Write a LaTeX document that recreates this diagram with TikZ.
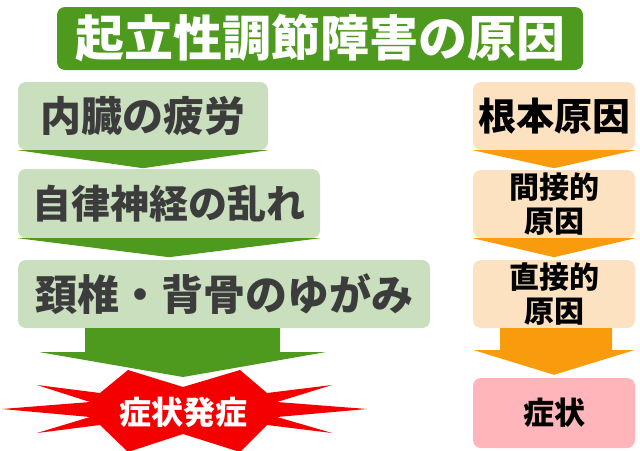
\documentclass[tikz,border=0pt]{standalone}
\usepackage{fontspec}
\setmainfont{Noto Sans CJK JP}
\usetikzlibrary{calc}
\definecolor{gdark}{HTML}{4E9A1E}
\definecolor{glight}{HTML}{C9DFBD}
\definecolor{peach}{HTML}{FDE2C2}
\definecolor{orng}{HTML}{F89C0E}
\definecolor{pinkbox}{HTML}{FFB5B9}
\definecolor{starred}{HTML}{F50000}
\definecolor{gtext}{HTML}{3C3C3C}
\newcommand{\fs}[2]{\fontsize{#1}{#2}\selectfont\bfseries}
\tikzset{
  box/.style={rounded corners=8pt, inner sep=0pt, align=center},
  gbox/.style={box, fill=glight, text=gtext},
  obox/.style={box, fill=peach, text=black},
  pbox/.style={box, fill=pinkbox, text=black},
  garrow/.style={fill=gdark},
  oarrow/.style={fill=orng},
}
\begin{document}
\begin{tikzpicture}[x=1pt,y=-1pt]
\useasboundingbox (0,0) rectangle (640,450);
% title
\node[box, fill=gdark, text=white, minimum width=526pt, minimum height=63pt, font={\fs{49}{52}}] (title) at (320,38.5) {起立性調節障害の原因};
% left column
\node[gbox, minimum width=250pt, minimum height=68pt, font={\fs{41}{46}}] (b1) at (143,116) {内臓の疲労};
\node[gbox, minimum width=302pt, minimum height=69pt, font={\fs{39}{44}}] (b2) at (169,203.5) {自律神経の乱れ};
\node[gbox, minimum width=412pt, minimum height=68pt, font={\fs{42}{46}}] (b3) at (224,294) {頚椎・背骨のゆがみ};
\fill[garrow] (b1.south west) -- (b1.south east) -- ($(b1.south)+(0,18)$) -- cycle;
\fill[garrow] (b2.south west) -- (b2.south east) -- ($(b2.south)+(0,19)$) -- cycle;
% star
\coordinate (sc) at (183,410);
\fill[starred] ($(sc)+(-55,-40)$) -- ($(sc)+(0,-23)$) -- ($(sc)+(57,-40)$) -- ($(sc)+(84,-17)$)
  -- ($(sc)+(149,-25)$) -- ($(sc)+(94,-8)$) -- ($(sc)+(184,-1)$) -- ($(sc)+(94,7)$)
  -- ($(sc)+(149,23)$) -- ($(sc)+(84,15)$) -- ($(sc)+(57,42)$) -- ($(sc)+(0,24)$)
  -- ($(sc)+(-55,42)$) -- ($(sc)+(-83,15)$) -- ($(sc)+(-146,23)$) -- ($(sc)+(-93,7)$)
  -- ($(sc)+(-181,-1)$) -- ($(sc)+(-93,-8)$) -- ($(sc)+(-146,-25)$) -- ($(sc)+(-83,-17)$) -- cycle;
\node[text=white, inner sep=0pt, font={\fs{32}{36}}] (star) at (183,412) {症状発症};
% big green arrow
\fill[garrow] (b3.south -| 85,0) -- (b3.south -| 280,0) -- ($(b3.south -| 280,0)+(0,24)$)
  -- ($(b3.south -| 325,0)+(0,24)$) -- ($(sc)+(0,-33)$) -- ($(b3.south -| 40,0)+(0,24)$)
  -- ($(b3.south -| 85,0)+(0,24)$) -- cycle;
% right column
\node[obox, minimum width=162pt, minimum height=68pt, font={\fs{38}{42}}] (r1) at (554,116) {根本原因};
\node[obox, minimum width=162pt, minimum height=68pt, font={\fs{30}{34}}] (r2) at (554,204) {間接的\\原因};
\node[obox, minimum width=162pt, minimum height=68pt, font={\fs{30}{34}}] (r3) at (554,294) {直接的\\原因};
\node[pbox, minimum width=162pt, minimum height=70pt, font={\fs{31}{34}}] (r4) at (554,413) {症状};
\fill[oarrow] (r1.south west) -- (r1.south east) -- ($(r1.south)+(0,18)$) -- cycle;
\fill[oarrow] (r2.south west) -- (r2.south east) -- ($(r2.south)+(0,19)$) -- cycle;
\fill[oarrow] ($(r3.south)+(-54,0)$) -- ($(r3.south)+(58,0)$) -- ($(r3.south)+(58,22)$)
  -- ($(r3.south)+(80,22)$) -- ($(r4.north)+(0,-3)$) -- ($(r3.south)+(-80,22)$)
  -- ($(r3.south)+(-54,22)$) -- cycle;
\end{tikzpicture}
\end{document}
